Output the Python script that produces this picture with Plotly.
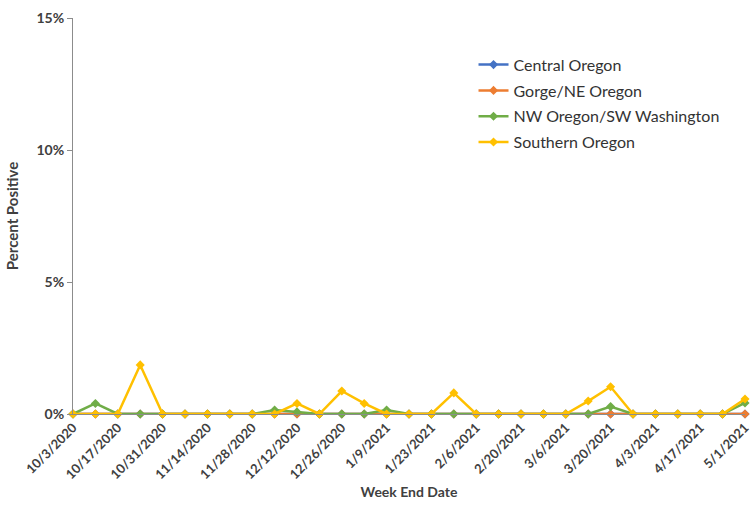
import plotly.graph_objects as go

weeks = ["10/3/2020", "10/10/2020", "10/17/2020", "10/24/2020", "10/31/2020", "11/7/2020",
         "11/14/2020", "11/21/2020", "11/28/2020", "12/5/2020", "12/12/2020", "12/19/2020",
         "12/26/2020", "1/2/2021", "1/9/2021", "1/16/2021", "1/23/2021", "1/30/2021",
         "2/6/2021", "2/13/2021", "2/20/2021", "2/27/2021", "3/6/2021", "3/13/2021",
         "3/20/2021", "3/27/2021", "4/3/2021", "4/10/2021", "4/17/2021", "4/24/2021", "5/1/2021"]

central_oregon = [0] * 31
gorge_ne_oregon = [0] * 31
nw_oregon_sw_washington = [0, 0.4, 0, 0, 0, 0, 0, 0, 0, 0.15, 0.08, 0, 0, 0, 0.15, 0,
                           0, 0, 0, 0, 0, 0, 0, 0, 0.28, 0, 0, 0, 0, 0, 0.42]
southern_oregon = [0, 0, 0, 1.86, 0, 0, 0, 0, 0, 0, 0.4, 0, 0.87, 0.4, 0, 0,
                   0, 0.8, 0, 0, 0, 0, 0, 0.49, 1.03, 0, 0, 0, 0, 0, 0.57]

y_tick_values = [0, 5, 10, 15]
y_tick_labels = ["0%", "5%", "10%", "15%"]
x_tick_labels = weeks[::2]

series = [
    ("Central Oregon", central_oregon, "#4472C4"),
    ("Gorge/NE Oregon", gorge_ne_oregon, "#ED7D31"),
    ("NW Oregon/SW Washington", nw_oregon_sw_washington, "#70AD47"),
    ("Southern Oregon", southern_oregon, "#FFC000"),
]

fig = go.Figure()
for name, vals, color in series:
    fig.add_trace(go.Scatter(
        x=weeks, y=vals, name=name, legendgroup=name, mode="lines+markers",
        line=dict(color=color, width=2.5),
        marker=dict(symbol="diamond", size=7, color=color),
        cliponaxis=False,
    ))

font_family = "Lato, 'Open Sans', sans-serif"
fig.update_layout(
    width=755, height=508,
    margin=dict(l=73, r=3, t=18, b=94),
    paper_bgcolor="white", plot_bgcolor="white",
    font=dict(family=font_family, color="#404040"),
    showlegend=True,
    legend=dict(x=0.596, y=0.925, xanchor="left", yanchor="top",
                font=dict(size=16, color="#333333"), bgcolor="rgba(0,0,0,0)",
                tracegroupgap=2, itemwidth=30),
    xaxis=dict(
        type="category", categoryorder="array", categoryarray=weeks,
        range=[0, 30], tickmode="array", tickvals=x_tick_labels, ticktext=x_tick_labels,
        tickangle=-45, tickfont=dict(size=13, weight="bold", color="#404040"),
        showline=True, linecolor="#8c8c8c", linewidth=1, ticks="",
        showgrid=False, zeroline=False,
        title=dict(text="Week End Date", font=dict(size=14, weight="bold", color="#404040"), standoff=6),
    ),
    yaxis=dict(
        range=[0, 15], tickmode="array", tickvals=y_tick_values, ticktext=y_tick_labels,
        tickfont=dict(size=14, weight="bold", color="#404040"),
        showline=True, linecolor="#8c8c8c", linewidth=1,
        ticks="outside", ticklen=5, tickcolor="#8c8c8c",
        showgrid=False, zeroline=False,
        title=dict(text="Percent Positive", font=dict(size=15, weight="bold", color="#404040"), standoff=14),
    ),
)

fig.write_html("out.html", config={"displayModeBar": False},
               post_script="document.body.style.margin='0';document.body.style.overflow='hidden';")
